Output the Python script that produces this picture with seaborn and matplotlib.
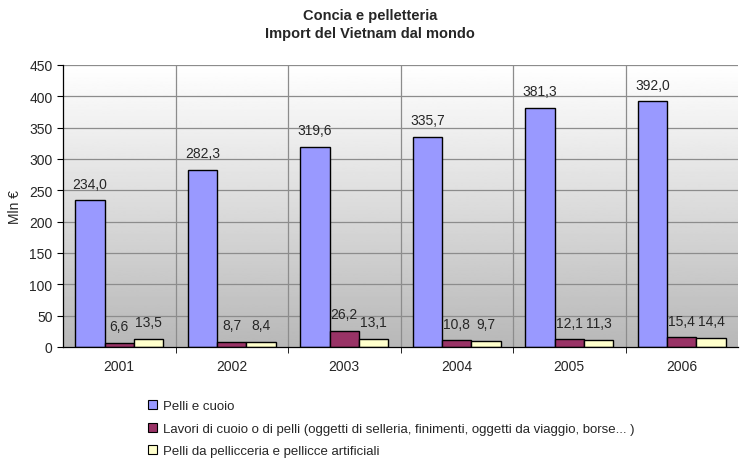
import numpy as np
import pandas as pd
import seaborn as sns
import matplotlib.pyplot as plt
from matplotlib.patches import Patch

# Data
years = ['2001', '2002', '2003', '2004', '2005', '2006']
series_names = [
    'Pelli e cuoio',
    'Lavori di cuoio o di pelli (oggetti di selleria, finimenti, oggetti da viaggio, borse... )',
    'Pelli da pellicceria e pellicce artificiali',
]
pelli_cuoio = [234.0, 282.3, 319.6, 335.7, 381.3, 392.0]
lavori_cuoio = [6.6, 8.7, 26.2, 10.8, 12.1, 15.4]
pellicceria = [13.5, 8.4, 13.1, 9.7, 11.3, 14.4]
colors = ['#9999FF', '#993366', '#FFFFCC']

df = pd.DataFrame({
    'Anno': years * 3,
    'Serie': np.repeat(series_names, len(years)),
    'Valore': pelli_cuoio + lavori_cuoio + pellicceria,
})

sns.set_style('white')
plt.rcParams['font.family'] = ['Liberation Sans', 'DejaVu Sans']

fig = plt.figure(figsize=(7.4, 4.6), dpi=100)
ax = fig.add_axes([63 / 740, 112 / 460, 675 / 740, 282 / 460])

# gradient background of the plot area
grad = np.linspace(0.72, 1.0, 256).reshape(-1, 1)
ax.imshow(grad, cmap='gray', vmin=0, vmax=1, origin='lower', aspect='auto',
          extent=[0, 1, 0, 1], transform=ax.transAxes, zorder=0)

sns.barplot(data=df, x='Anno', y='Valore', hue='Serie', palette=colors,
            saturation=1, width=0.78, edgecolor='black', linewidth=1,
            ax=ax, zorder=3, legend=False)

ax.set_ylim(0, 450)
ax.set_xlim(-0.5, len(years) - 0.5)
ax.set_yticks(range(0, 451, 50))
ax.tick_params(axis='y', labelsize=10, length=4, color='black', left=True)
ax.tick_params(axis='x', labelsize=10, length=0, pad=9)
ax.set_xticks(np.arange(0.5, len(years) - 0.5), minor=True)
ax.tick_params(axis='x', which='minor', length=4, color='black', bottom=True)

for y in range(50, 451, 50):
    ax.axhline(y, color='#8c8c8c', lw=0.9, zorder=1)
for x in np.arange(0.5, len(years) - 0.5):
    ax.axvline(x, color='#8c8c8c', lw=0.9, zorder=1)

for s in ['top', 'right']:
    ax.spines[s].set_visible(False)
for s in ['left', 'bottom']:
    ax.spines[s].set_color('black')
    ax.spines[s].set_linewidth(0.9)
    ax.spines[s].set_zorder(4)

# value labels with comma decimals
for cont in ax.containers:
    labels = [f'{b.get_height():.1f}'.replace('.', ',') for b in cont]
    ax.bar_label(cont, labels=labels, padding=7, fontsize=10)

ax.set_xlabel('')
ax.set_ylabel('Mln €', fontsize=10, labelpad=5)

fig.text(0.5, 1 - 16 / 460, 'Concia e pelletteria', ha='center', va='center',
         fontsize=10.5, fontweight='bold')
fig.text(0.5, 1 - 34 / 460, 'Import del Vietnam dal mondo', ha='center', va='center',
         fontsize=10.5, fontweight='bold')

handles = [Patch(facecolor=c, edgecolor='black', lw=0.8) for c in colors]
fig.legend(handles, series_names, loc='upper left', bbox_to_anchor=(148 / 740, 1 - 401 / 460),
           frameon=False, fontsize=9.5, handlelength=0.7, handleheight=0.7,
           handletextpad=0.4, labelspacing=0.78, borderpad=0, borderaxespad=0)

fig.savefig('out.png', dpi=100)
